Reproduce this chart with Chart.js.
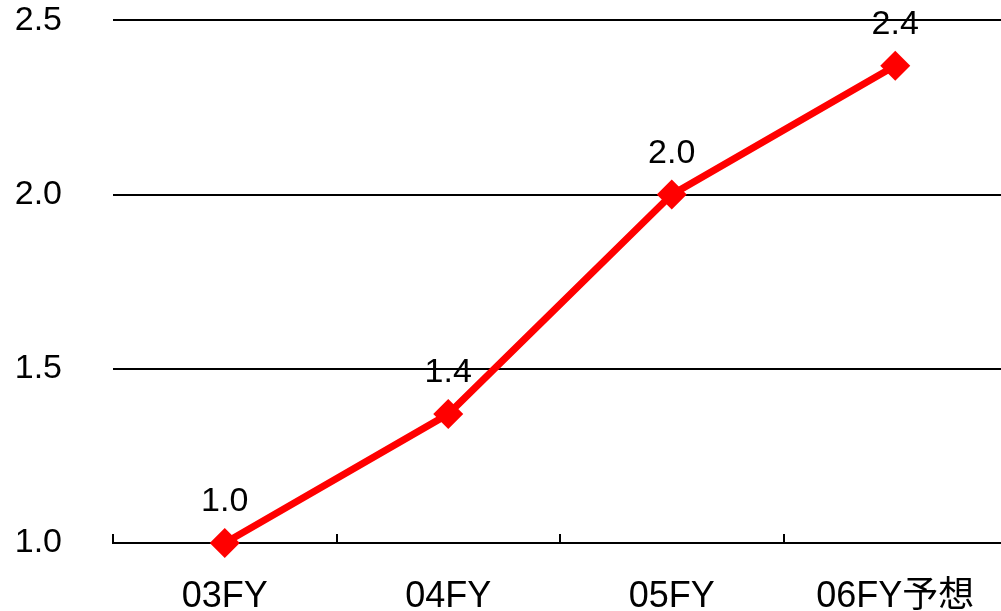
<!DOCTYPE html>
<html>
<head>
<meta charset="utf-8">
<script src="https://cdn.jsdelivr.net/npm/chart.js@4"></script>
<style>
  html, body { margin: 0; padding: 0; background: #fff; overflow: hidden; }
  #wrap { width: 1007px; height: 611px; }
</style>
</head>
<body>
<div id="wrap"><canvas id="chart" width="1007" height="611"></canvas></div>
<script>
const categories = ["03FY", "04FY", "05FY", "06FY予想"];
const values = [1.0, 1.37, 2.0, 2.37];
const yTicks = [1.0, 1.5, 2.0, 2.5];

const fontFamily = "'Liberation Sans', Arial, 'Noto Sans CJK JP', sans-serif";

// value labels above each point
const pointLabels = {
  id: "pointLabels",
  afterDatasetsDraw(chart) {
    const ctx = chart.ctx;
    const meta = chart.getDatasetMeta(0);
    ctx.save();
    ctx.font = "34px " + fontFamily;
    ctx.fillStyle = "#000";
    ctx.textAlign = "center";
    ctx.textBaseline = "middle";
    meta.data.forEach((pt, i) => {
      ctx.fillText(values[i].toFixed(1), pt.x, pt.y - 41);
    });
    ctx.restore();
  },
};

// small ticks pointing up from the x axis, at category boundaries
const upTicks = {
  id: "upTicks",
  afterDatasetsDraw(chart) {
    const x = chart.scales.x;
    const ctx = chart.ctx;
    const half = (x.getPixelForValue(1) - x.getPixelForValue(0)) / 2;
    ctx.save();
    ctx.strokeStyle = "#000";
    ctx.lineWidth = 2;
    for (let i = 0; i < categories.length; i++) {
      const px = Math.round(x.getPixelForValue(i) - half);
      ctx.beginPath();
      ctx.moveTo(px, x.top);
      ctx.lineTo(px, x.top - 9);
      ctx.stroke();
    }
    ctx.restore();
  },
};

new Chart(document.getElementById("chart"), {
  type: "line",
  data: {
    labels: categories,
    datasets: [
      {
        data: values,
        borderColor: "#FF0000",
        backgroundColor: "#FF0000",
        borderWidth: 7,
        pointStyle: "rectRot",
        pointRadius: 15,
        pointBorderWidth: 0,
        tension: 0,
        clip: false,
      },
    ],
  },
  options: {
    responsive: false,
    animation: false,
    layout: {
      autoPadding: false,
      padding: { top: 20, right: 0, left: 0, bottom: 0 },
    },
    plugins: {
      legend: { display: false },
      tooltip: { enabled: false },
    },
    scales: {
      x: {
        offset: true,
        grid: {
          display: true,
          drawOnChartArea: false,
          color: "transparent",
          tickColor: "transparent",
          tickLength: 32,
        },
        border: { display: true, color: "#000", width: 2 },
        ticks: {
          color: "#000",
          font: { family: fontFamily, size: 36 },
          padding: 0,
          maxRotation: 0,
          autoSkip: false,
        },
        afterFit(scale) {
          scale.height = 68;
          scale.paddingLeft = 0;
          scale.paddingRight = 0;
        },
      },
      y: {
        min: 1.0,
        max: 2.5,
        afterBuildTicks(scale) {
          scale.ticks = yTicks.map((v) => ({ value: v }));
        },
        grid: {
          color: "#000",
          lineWidth: 2,
          drawTicks: true,
          tickLength: 51,
          tickColor: "transparent",
        },
        border: { display: false },
        ticks: {
          color: "#000",
          font: { family: fontFamily, size: 34 },
          padding: 0,
          callback: (v) => Number(v).toFixed(1),
        },
        afterFit(scale) {
          scale.width = 113;
        },
      },
    },
  },
  plugins: [pointLabels, upTicks],
});
</script>
</body>
</html>
